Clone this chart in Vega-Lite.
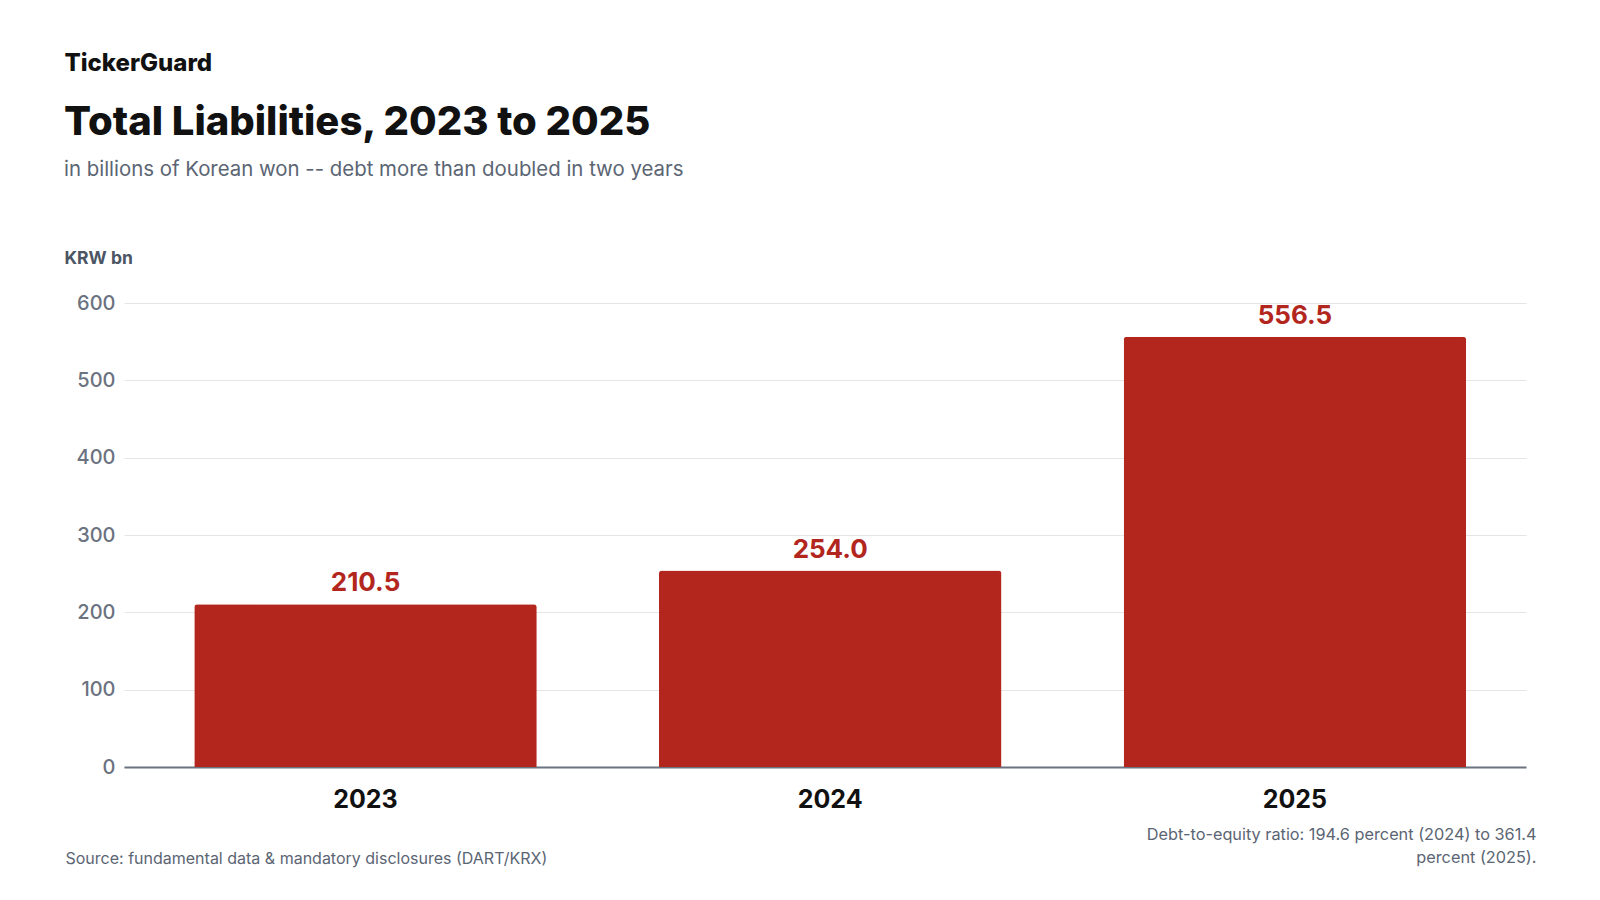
{
  "$schema": "https://vega.github.io/schema/vega-lite/v6.json",
  "width": 1402,
  "height": 464,
  "autosize": {"type": "none"},
  "padding": {"left": 124, "top": 303, "right": 74, "bottom": 133},
  "background": "white",
  "config": {
    "font": "Inter",
    "view": {"stroke": null}
  },
  "title": {
    "text": "Total Liabilities, 2023 to 2025",
    "subtitle": "in billions of Korean won -- debt more than doubled in two years",
    "anchor": "start",
    "frame": "group",
    "dx": -60,
    "dy": 133,
    "font": "Inter",
    "fontSize": 40,
    "fontWeight": 800,
    "color": "#111111",
    "subtitleFont": "Inter",
    "subtitleFontSize": 20.4,
    "subtitleColor": "#5b6573",
    "subtitlePadding": 17
  },
  "data": {
    "values": [
      {"year": "2023", "liabilities": 210.5},
      {"year": "2024", "liabilities": 254.0},
      {"year": "2025", "liabilities": 556.5}
    ]
  },
  "layer": [
    {
      "mark": {
        "type": "bar",
        "color": "#b3261e",
        "cornerRadiusTopLeft": 3,
        "cornerRadiusTopRight": 3
      },
      "encoding": {
        "x": {
          "field": "year",
          "type": "nominal",
          "sort": null,
          "scale": {"paddingInner": 0.263, "paddingOuter": 0.14, "align": 0.54},
          "axis": {
            "orient": "bottom",
            "labelAngle": 0,
            "labelFontSize": 25,
            "labelFontWeight": "bold",
            "labelColor": "#111111",
            "labelPadding": 20,
            "ticks": false,
            "domainColor": "#6b7280",
            "domainWidth": 2,
            "title": "Source: fundamental data & mandatory disclosures (DART/KRX)",
            "titleFontSize": 16,
            "titleFontWeight": "normal",
            "titleColor": "#5b6573",
            "titleAlign": "left",
            "titleAnchor": "start",
            "titleBaseline": "alphabetic",
            "titleX": -59,
            "titleY": 96
          }
        },
        "y": {
          "field": "liabilities",
          "type": "quantitative",
          "scale": {"domain": [0, 600]},
          "axis": {
            "orient": "left",
            "values": [0, 100, 200, 300, 400, 500, 600],
            "labelFontSize": 20,
            "labelFontWeight": 500,
            "labelColor": "#6b7280",
            "labelPadding": 9,
            "ticks": false,
            "domain": false,
            "gridColor": "#e5e5e5",
            "gridWidth": 1,
            "title": "KRW bn",
            "titleAngle": 0,
            "titleFontSize": 17.5,
            "titleFontWeight": "bold",
            "titleColor": "#4b5563",
            "titleAlign": "left",
            "titleBaseline": "alphabetic",
            "titleX": -60,
            "titleY": -40
          }
        }
      }
    },
    {
      "mark": {
        "type": "text",
        "color": "#b3261e",
        "fontSize": 26,
        "fontWeight": "bold",
        "baseline": "alphabetic",
        "dy": -13
      },
      "encoding": {
        "x": {
          "field": "year",
          "type": "nominal",
          "sort": null,
          "axis": {
            "orient": "top",
            "labels": false,
            "ticks": false,
            "domain": false,
            "title": "TickerGuard",
            "titleFontSize": 24,
            "titleFontWeight": 800,
            "titleColor": "#111111",
            "titleAlign": "left",
            "titleAnchor": "start",
            "titleBaseline": "alphabetic",
            "titleX": -60,
            "titleY": -233
          }
        },
        "y": {
          "field": "liabilities",
          "type": "quantitative",
          "axis": {
            "orient": "right",
            "labels": false,
            "ticks": false,
            "domain": false,
            "grid": false,
            "title": ["Debt-to-equity ratio: 194.6 percent (2024) to 361.4", "percent (2025)."],
            "titleAngle": 0,
            "titleFontSize": 16.3,
            "titleFontWeight": "normal",
            "titleColor": "#5b6573",
            "titleAlign": "right",
            "titleBaseline": "alphabetic",
            "titleLineHeight": 23.7,
            "titleX": 10,
            "titleY": 536
          }
        },
        "text": {"field": "liabilities", "type": "quantitative", "format": ".1f"}
      }
    }
  ],
  "resolve": {"axis": {"x": "independent", "y": "independent"}}
}
